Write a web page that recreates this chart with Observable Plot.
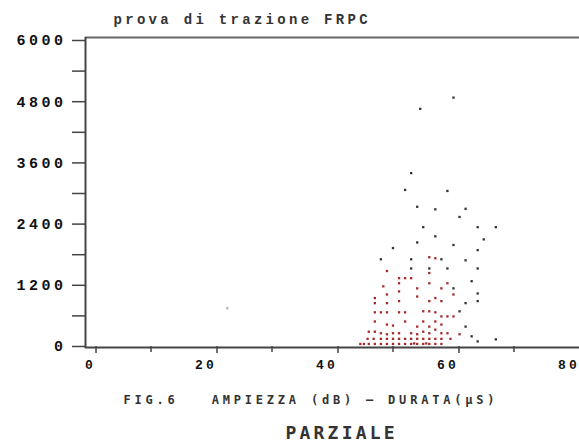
<!DOCTYPE html>
<html>
<head>
<meta charset="utf-8">
<script src="https://cdn.jsdelivr.net/npm/d3@7"></script>
<script src="https://cdn.jsdelivr.net/npm/@observablehq/plot@0.6"></script>
<style>
  html, body { margin: 0; padding: 0; background: #fff; }
</style>
</head>
<body>
<div id="chart"></div>
<script>
// ---- text ----
const titleText = "prova di trazione FRPC";
const captionText = "FIG.6   AMPIEZZA (dB) — DURATA(µS)";
const subCaptionText = "PARZIALE";

// ---- axes ----
const xDomain = [-0.83, 80.83];
const yDomain = [0, 6000];
const xTickLabels = [0, 20, 40, 60, 80];
const xMinorTicks = [10, 30, 50, 70];
const yTickLabels = [0, 1200, 2400, 3600, 4800, 6000];
const yMinorTicks = [600, 1800, 3000, 4200, 5400];

// ---- data: ampiezza (dB) vs durata (µs) ----
// darker (upper) hits
const grayX = [60, 54.5, 53, 52, 59, 54, 57, 62, 61, 64, 67, 55, 57, 65, 54, 60, 64, 50, 48, 53, 58, 62, 64, 59, 56, 53, 63, 60, 64, 64, 62, 61, 62, 64, 67, 63];
const grayY = [4880, 4660, 3400, 3070, 3050, 2740, 2690, 2700, 2540, 2340, 2340, 2340, 2160, 2100, 2040, 1990, 1890, 1930, 1710, 1710, 1710, 1690, 1530, 1530, 1530, 1530, 1280, 1140, 1040, 890, 850, 690, 390, 100, 140, 200];
// faint isolated hit
const faintX = [22.6];
const faintY = [750];
// reddish (dense lower cluster) hits
const redX = [49, 51, 52, 53, 56, 56, 57, 48.4, 51, 54, 56, 58, 59, 47, 49, 51, 54, 57, 58, 60, 47, 49, 51, 56,
  47, 48, 49, 51, 52, 55, 56, 57, 58, 59, 60, 47, 49, 50, 52, 54, 55, 56, 57, 58,
  46, 47, 48, 49, 50, 51, 53, 54, 55, 56, 57, 58, 59, 61,
  45.8, 46.8, 48, 49, 50, 51, 52, 53, 54, 55, 56, 57, 58, 59.5,
  44.6, 45.2, 46, 47, 48, 49, 50, 51, 52, 53, 54, 55, 56, 57, 58, 55.5, 53.5];
const redY = [1480, 1340, 1340, 1340, 1440, 1750, 1730, 1180, 1240, 1140, 1240, 1140, 1240, 950, 1020, 1080, 980, 950, 890, 1020, 850, 850, 890, 890,
  670, 670, 670, 670, 670, 690, 690, 670, 590, 590, 590, 490, 430, 410, 490, 390, 490, 390, 490, 430,
  290, 290, 260, 240, 260, 260, 260, 240, 290, 260, 330, 260, 260, 240,
  150, 150, 150, 150, 150, 150, 150, 150, 150, 150, 150, 150, 150, 150,
  50, 50, 50, 50, 50, 50, 50, 50, 50, 50, 50, 50, 50, 50, 50, 60, 60];

const gray = grayX.map((x, i) => ({x, y: grayY[i]}));
const faint = faintX.map((x, i) => ({x, y: faintY[i]}));
const red = redX.map((x, i) => ({x, y: redY[i]}));

const mono = "Liberation Mono";
const pixel = "DejaVu Sans Mono";

const chart = Plot.plot({
  width: 579,
  height: 445,
  marginLeft: 85,
  marginRight: 0,
  marginTop: 40,
  marginBottom: 99,
  x: {domain: xDomain},
  y: {domain: yDomain},
  style: {background: "#fff", color: "#333"},
  marks: [
    // frame lines
    Plot.ruleY([yDomain[1]], {stroke: "#666", strokeWidth: 2, dy: -3}),
    Plot.ruleX([xDomain[0]], {stroke: "#444", strokeWidth: 2, insetTop: -3, insetBottom: -2}),
    Plot.ruleY([yDomain[0]], {stroke: "#444", strokeWidth: 2, dy: 1}),
    // y axis
    Plot.axisY({ticks: yTickLabels, tickSize: 13, tickPadding: 6, tickFormat: d => String(d), fontFamily: mono, fontWeight: "bold", fontSize: 15, label: null, stroke: "#444", strokeWidth: 1.5, fill: "#111"}),
    Plot.axisY({ticks: yMinorTicks, tickSize: 13, tickFormat: () => "", label: null, stroke: "#444", strokeWidth: 1.5}),
    // x axis
    Plot.axisX({ticks: xTickLabels, tickSize: 7, tickPadding: 6, tickFormat: d => String(d), fontFamily: mono, fontWeight: "bold", fontSize: 13, textAnchor: "end", dx: 5.5, label: null, stroke: "#444", strokeWidth: 1.5, fill: "#111"}),
    Plot.axisX({ticks: xMinorTicks, tickSize: 6, tickFormat: () => "", label: null, stroke: "#444", strokeWidth: 1.5}),
    // data
    Plot.dot(faint, {x: "x", y: "y", symbol: "square", r: 1.4, fill: "#bbb"}),
    Plot.dot(red, {x: "x", y: "y", symbol: "square", r: 1.3, fill: "#a52a2a"}),
    Plot.dot(gray, {x: "x", y: "y", symbol: "square", r: 1.3, fill: "#333"}),
    // texts
    Plot.text([titleText], {frameAnchor: "top-left", dx: 28, dy: -17, textAnchor: "start", lineAnchor: "bottom", fontFamily: mono, fontWeight: "bold", fontSize: 14, fill: "#333"}),
    Plot.text([captionText], {frameAnchor: "bottom-left", dx: 38, dy: 57, textAnchor: "start", lineAnchor: "bottom", fontFamily: pixel, fontWeight: "bold", fontSize: 12, fill: "#333"}),
    Plot.text([subCaptionText], {frameAnchor: "bottom-left", dx: 200, dy: 92, textAnchor: "start", lineAnchor: "bottom", fontFamily: pixel, fontWeight: "bold", fontSize: 18, fill: "#333"})
  ]
});
document.getElementById("chart").appendChild(chart);

// widen the lettering like the original plotter font
const spacing = new Map([[titleText, "3.3px"], [captionText, "3.8px"], [subCaptionText, "3.2px"]]);
d3.select(chart).selectAll("text").each(function () {
  const t = this.textContent;
  if (spacing.has(t)) this.style.letterSpacing = spacing.get(t);
  else if (yTickLabels.map(String).includes(t)) this.style.letterSpacing = "3.5px";
});
d3.select(chart).selectAll('g[aria-label="x-axis tick label"] text').style("letter-spacing", "3.2px");
</script>
</body>
</html>
